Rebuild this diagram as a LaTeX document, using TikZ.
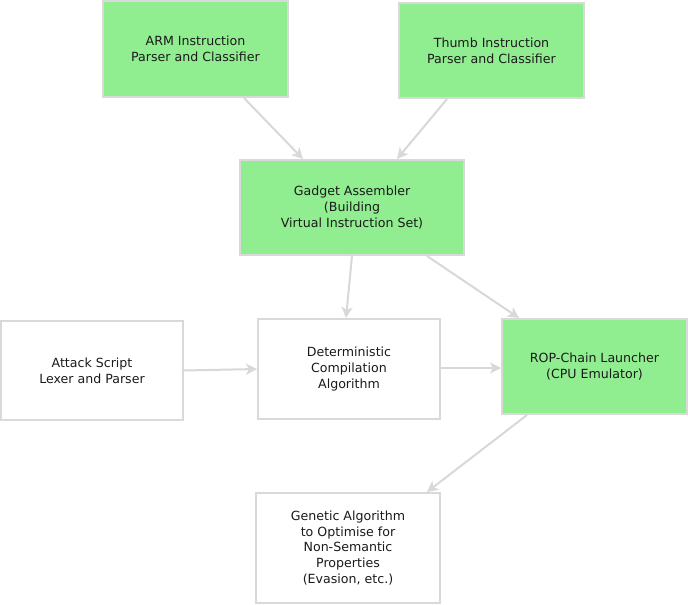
\documentclass[tikz,border=0pt]{standalone}
\usepackage{fontspec}
\setmainfont{DejaVu Sans}
\usetikzlibrary{arrows.meta}
\definecolor{boxline}{HTML}{D9D9D9}
\definecolor{boxgreen}{HTML}{90EE90}
\definecolor{arrowc}{HTML}{D8D8D8}
\definecolor{txt}{HTML}{1A1A1A}
\begin{document}
\begin{tikzpicture}[x=1pt,y=-1pt,
  box/.style={draw=boxline, line width=2pt, inner sep=0pt, align=center,
    font=\fontsize{12.6}{15.8}\selectfont, text=txt},
  gbox/.style={box, fill=boxgreen},
  wbox/.style={box, fill=white},
  flow/.style={draw=arrowc, line width=2pt, -{Stealth[length=11pt,width=11pt,inset=3pt]}}]
\useasboundingbox (0,0) rectangle (688,605);
\node[gbox, minimum width=185pt, minimum height=96pt] (arm) at (195.5,49) {ARM Instruction\\Parser and Classifier};
\node[gbox, minimum width=185pt, minimum height=95pt] (thumb) at (491.5,50.5) {Thumb Instruction\\Parser and Classifier};
\node[gbox, minimum width=224pt, minimum height=95pt] (gad) at (352,207.5) {Gadget Assembler\\(Building\\Virtual Instruction Set)};
\node[wbox, minimum width=182pt, minimum height=99pt] (atk) at (92,370.5) {Attack Script\\Lexer and Parser};
\node[wbox, minimum width=182pt, minimum height=100pt] (det) at (349,369) {Deterministic\\Compilation\\Algorithm};
\node[gbox, minimum width=185pt, minimum height=95pt] (rop) at (594.5,366.5) {ROP-Chain Launcher\\(CPU Emulator)};
\node[wbox, minimum width=184pt, minimum height=110pt] (gen) at (348,548) {Genetic Algorithm\\to Optimise for\\Non-Semantic\\Properties\\(Evasion, etc.)};
\draw[flow] ([xshift=48.5pt]arm.south) -- ([xshift=-49pt]gad.north);
\draw[flow] ([xshift=-44.5pt]thumb.south) -- ([xshift=45pt]gad.north);
\draw[flow] (gad.south) -- ([xshift=-3pt]det.north);
\draw[flow] ([xshift=75pt]gad.south) -- ([xshift=-75.5pt]rop.north);
\draw[flow] (atk.east) -- (det.west);
\draw[flow] ([yshift=1pt]det.east) -- ([yshift=1pt]det.east -| rop.west);
\draw[flow] ([xshift=-67.5pt]rop.south) -- ([xshift=79pt]gen.north);
\end{tikzpicture}
\end{document}
